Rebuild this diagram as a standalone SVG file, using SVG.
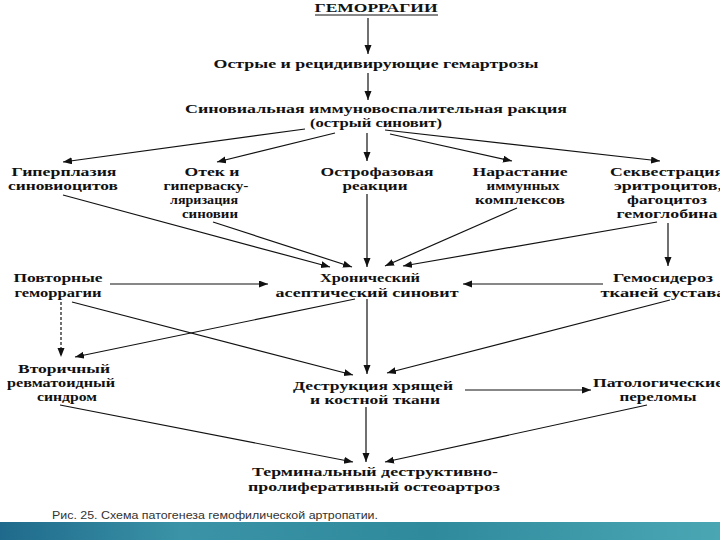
<svg xmlns="http://www.w3.org/2000/svg" width="720" height="540" viewBox="0 0 720 540">
<defs>
<style>
.t{font-family:"Liberation Serif","Times New Roman",serif;font-size:12.5px;font-weight:bold;fill:#111;text-anchor:middle}
.c{stroke:#111;stroke-width:1.2;fill:none;marker-end:url(#ah)}
.d{stroke-dasharray:3,2}
.cap{font-family:"Liberation Sans",Arial,sans-serif;font-size:11px;fill:#333}
</style>
<marker id="ah" markerUnits="userSpaceOnUse" markerWidth="10" markerHeight="8" refX="9" refY="3.5" orient="auto">
<path d="M0,0 L9,3.5 L0,7 z" fill="#111"/>
</marker>
<linearGradient id="band" x1="0" y1="0" x2="1" y2="0">
<stop offset="0" stop-color="#1f6a8c"/>
<stop offset="0.25" stop-color="#3a93a6"/>
<stop offset="0.6" stop-color="#2f8a9c"/>
<stop offset="1" stop-color="#4ba6b4"/>
</linearGradient>
</defs>
<rect width="720" height="540" fill="#fff"/>

<g id="connectors">
<line class="c" x1="368" y1="18" x2="368" y2="54"/>
<line class="c" x1="368" y1="73" x2="368" y2="100"/>
<line class="c" x1="305" y1="129" x2="63" y2="162"/>
<line class="c" x1="335" y1="133" x2="217" y2="162"/>
<line class="c" x1="367" y1="133" x2="367" y2="161"/>
<line class="c" x1="390" y1="134" x2="512" y2="161"/>
<line class="c" x1="385" y1="130" x2="660" y2="161"/>
<line class="c" x1="63" y1="195" x2="330" y2="267"/>
<line class="c" x1="213" y1="222" x2="352" y2="267"/>
<line class="c" x1="367" y1="194" x2="367" y2="267"/>
<line class="c" x1="517" y1="208" x2="385" y2="266"/>
<line class="c" x1="657" y1="222" x2="403" y2="266"/>
<line class="c" x1="668" y1="223" x2="668" y2="266"/>
<line class="c" x1="110" y1="284" x2="268" y2="284"/>
<line class="c" x1="603" y1="284" x2="463" y2="284"/>
<line class="c d" x1="61" y1="302" x2="61" y2="357"/>
<line class="c" x1="355" y1="299" x2="75" y2="357"/>
<line class="c" x1="72" y1="302" x2="353" y2="375"/>
<line class="c" x1="367" y1="299" x2="367" y2="374"/>
<line class="c" x1="670" y1="300" x2="387" y2="373"/>
<line class="c" x1="465" y1="390" x2="591" y2="390"/>
<line class="c" x1="60" y1="405" x2="353" y2="462"/>
<line class="c" x1="366" y1="407" x2="366" y2="462"/>
<line class="c" x1="647" y1="405" x2="385" y2="462"/>
</g>

<g id="n-gemorragii">
<text class="t" x="376" y="12" textLength="123" lengthAdjust="spacingAndGlyphs">ГЕМОРРАГИИ</text>
<line x1="315" y1="15" x2="438" y2="15" stroke="#111" stroke-width="1"/>
</g>
<g id="n-gemartrozy">
<text class="t" x="376" y="68" textLength="325" lengthAdjust="spacingAndGlyphs">Острые и рецидивирующие гемартрозы</text>
</g>
<g id="n-sinovialnaya">
<text class="t" x="376" y="113" textLength="382" lengthAdjust="spacingAndGlyphs">Синовиальная иммуновоспалительная ракция</text>
<text class="t" x="376" y="127" textLength="132" lengthAdjust="spacingAndGlyphs">(острый синовит)</text>
</g>
<g id="n-giperplaziya">
<text class="t" x="64" y="176" textLength="105" lengthAdjust="spacingAndGlyphs">Гиперплазия</text>
<text class="t" x="63" y="190" textLength="110" lengthAdjust="spacingAndGlyphs">синовиоцитов</text>
</g>
<g id="n-otek">
<text class="t" x="212" y="176" textLength="55" lengthAdjust="spacingAndGlyphs">Отек и</text>
<text class="t" x="206" y="190" textLength="85" lengthAdjust="spacingAndGlyphs">гиперваску-</text>
<text class="t" x="204" y="204" textLength="68" lengthAdjust="spacingAndGlyphs">ляризация</text>
<text class="t" x="210" y="218" textLength="56" lengthAdjust="spacingAndGlyphs">синовии</text>
</g>
<g id="n-ostrofaz">
<text class="t" x="377" y="176" textLength="113" lengthAdjust="spacingAndGlyphs">Острофазовая</text>
<text class="t" x="375" y="190" textLength="65" lengthAdjust="spacingAndGlyphs">реакции</text>
</g>
<g id="n-narastanie">
<text class="t" x="520" y="176" textLength="95" lengthAdjust="spacingAndGlyphs">Нарастание</text>
<text class="t" x="523" y="190" textLength="73" lengthAdjust="spacingAndGlyphs">иммунных</text>
<text class="t" x="520" y="204" textLength="90" lengthAdjust="spacingAndGlyphs">комплексов</text>
</g>
<g id="n-sekvestr">
<text class="t" x="667" y="176" textLength="114" lengthAdjust="spacingAndGlyphs">Секвестрация</text>
<text class="t" x="668" y="190" textLength="108" lengthAdjust="spacingAndGlyphs">эритроцитов,</text>
<text class="t" x="667" y="204" textLength="80" lengthAdjust="spacingAndGlyphs">фагоцитоз</text>
<text class="t" x="667" y="218" textLength="101" lengthAdjust="spacingAndGlyphs">гемоглобина</text>
</g>
<g id="n-povtornye">
<text class="t" x="58" y="282" textLength="89" lengthAdjust="spacingAndGlyphs">Повторные</text>
<text class="t" x="58" y="297" textLength="87" lengthAdjust="spacingAndGlyphs">геморрагии</text>
</g>
<g id="n-khronicheskiy">
<text class="t" x="370" y="282" textLength="100" lengthAdjust="spacingAndGlyphs">Хронический</text>
<text class="t" x="367" y="297" textLength="183" lengthAdjust="spacingAndGlyphs">асептический синовит</text>
</g>
<g id="n-gemosideroz">
<text class="t" x="663" y="282" textLength="100" lengthAdjust="spacingAndGlyphs">Гемосидероз</text>
<text class="t" x="663" y="297" textLength="125" lengthAdjust="spacingAndGlyphs">тканей сустава</text>
</g>
<g id="n-vtorichnyy">
<text class="t" x="64" y="373" textLength="92" lengthAdjust="spacingAndGlyphs">Вторичный</text>
<text class="t" x="61" y="387" textLength="108" lengthAdjust="spacingAndGlyphs">ревматоидный</text>
<text class="t" x="67" y="401" textLength="60" lengthAdjust="spacingAndGlyphs">синдром</text>
</g>
<g id="n-destrukciya">
<text class="t" x="373" y="390" textLength="160" lengthAdjust="spacingAndGlyphs">Деструкция хрящей</text>
<text class="t" x="375" y="404" textLength="130" lengthAdjust="spacingAndGlyphs">и костной ткани</text>
</g>
<g id="n-patolog">
<text class="t" x="658" y="387" textLength="130" lengthAdjust="spacingAndGlyphs">Патологические</text>
<text class="t" x="658" y="401" textLength="77" lengthAdjust="spacingAndGlyphs">переломы</text>
</g>
<g id="n-terminal">
<text class="t" x="375" y="476" textLength="246" lengthAdjust="spacingAndGlyphs">Терминальный деструктивно-</text>
<text class="t" x="374" y="491" textLength="252" lengthAdjust="spacingAndGlyphs">пролиферативный остеоартроз</text>
</g>

<text class="cap" x="52" y="519" textLength="326" lengthAdjust="spacingAndGlyphs">Рис. 25. Схема патогенеза гемофилической артропатии.</text>
<rect x="0" y="522" width="720" height="18" fill="url(#band)"/>
</svg>
